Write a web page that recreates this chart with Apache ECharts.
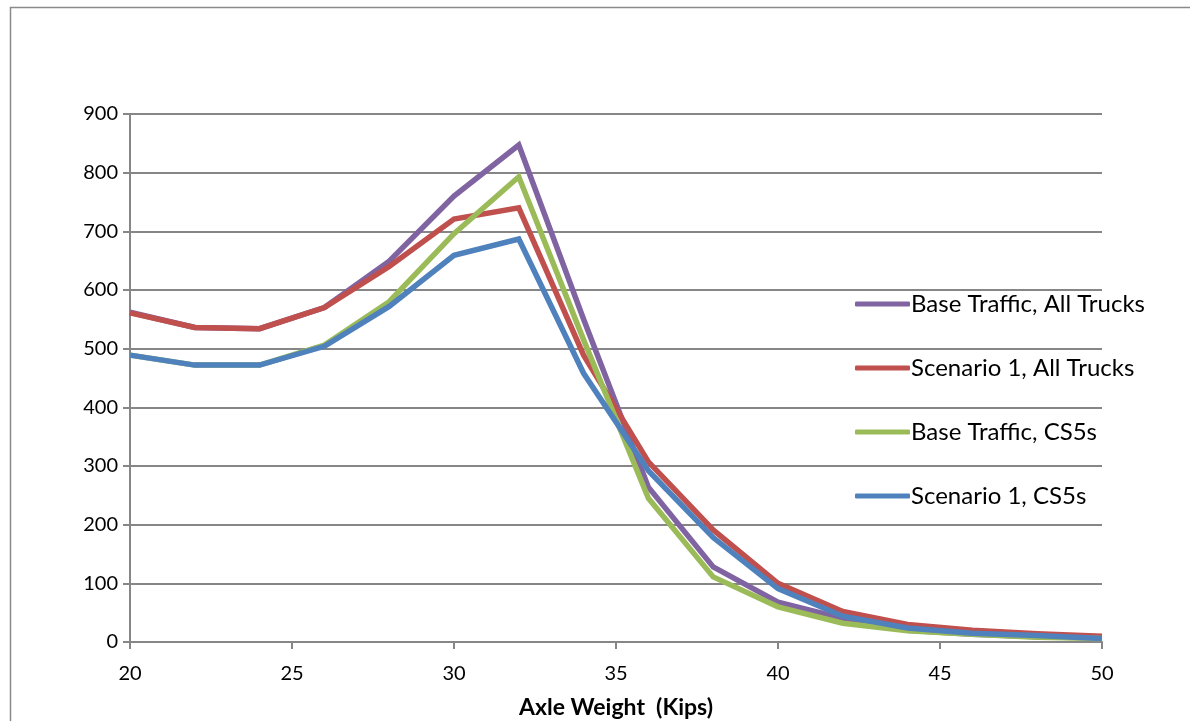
<!DOCTYPE html>
<html><head><meta charset="utf-8">
<script src="https://cdn.jsdelivr.net/npm/echarts@6/dist/echarts.min.js"></script>
<style>html,body{margin:0;padding:0;background:#fff}#c{width:1190px;height:721px}</style>
</head><body><div id="c"></div>
<script>
const axleWeights = [20,22,24,26,28,30,32,34,36,38,40,42,44,46,48,50];
const seriesNames = ['Base Traffic, All Trucks','Scenario 1, All Trucks','Base Traffic, CS5s','Scenario 1, CS5s'];
const baseAll   = [562,536,534,570,649,760,847,550,264,128,68,40,20,13,9,7];
const scen1All  = [561,536,534,570,640,721,740,489,307,191,100,52,30,20,14,10];
const baseCS5   = [489,472,472,506,580,696,793,515,245,111,60,32,19,13,8,6];
const scen1CS5  = [489,472,472,504,572,659,687,458,292,178,91,44,24,15,11,6];
const xTitle = 'Axle Weight  (Kips)';

const colors = ['#8064A2','#C0504D','#9BBB59','#4F81BD'];
const allData = [baseAll, scen1All, baseCS5, scen1CS5];
const font = 'Lato, "Open Sans", sans-serif';

const chart = echarts.init(document.getElementById('c'), null, {renderer:'canvas'});
chart.setOption({
  animation:false,
  backgroundColor:'#fff',
  color: colors,
  graphic:[{type:'rect', shape:{x:10.5,y:7.5,width:1300,height:800}, style:{fill:'none', stroke:'#8a8a8a', lineWidth:1.5}, silent:true}],
  grid:{left:130, right:88, top:114, bottom:79, containLabel:false, outerBoundsMode:'none'},
  legend:{
    orient:'vertical', left:850, top:287, itemGap:40, itemWidth:55, itemHeight:5,
    icon:'roundRect',
    textStyle:{fontFamily:font, fontSize:24, color:'#000', padding:[0,0,0,-4], lineHeight:24},
    data: seriesNames
  },
  xAxis:{
    type:'value', min:20, max:50, interval:5,
    name:xTitle, nameLocation:'middle', nameGap:54,
    nameTextStyle:{fontFamily:font, fontSize:23, fontWeight:'bold', color:'#000'},
    axisLine:{show:true, onZero:false, lineStyle:{color:'#868686', width:2}},
    axisTick:{show:true, inside:false, length:7, lineStyle:{color:'#868686', width:2}},
    axisLabel:{fontFamily:font, fontSize:20, color:'#000', margin:22},
    splitLine:{show:false}
  },
  yAxis:{
    type:'value', min:0, max:900, interval:100,
    axisLine:{show:true, lineStyle:{color:'#868686', width:2}},
    axisTick:{show:true, length:7, lineStyle:{color:'#868686', width:2}},
    axisLabel:{fontFamily:font, fontSize:20, color:'#000', margin:12},
    splitLine:{show:true, lineStyle:{color:'#868686', width:2}}
  },
  series: seriesNames.map((n,i)=>({
    name:n, type:'line', symbol:'none', showSymbol:false,
    data: axleWeights.map((x,j)=>[x, allData[i][j]]),
    lineStyle:{width:5.5, color:colors[i], join:'miter'},
    itemStyle:{color:colors[i]},
    z: 2+i
  }))
});
</script></body></html>
